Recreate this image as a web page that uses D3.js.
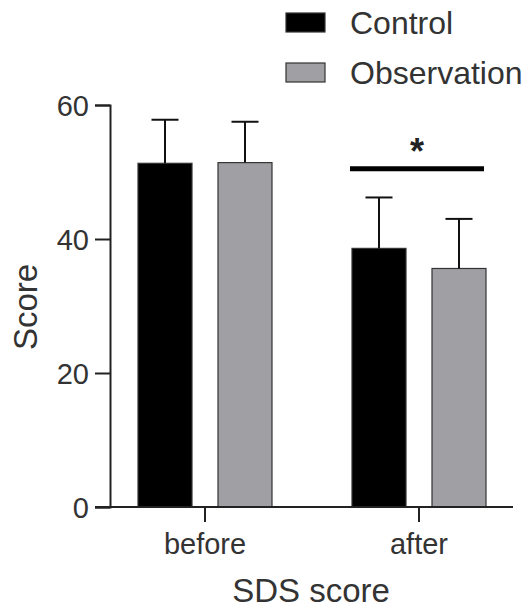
<!DOCTYPE html>
<html lang="en">
<head>
<meta charset="UTF-8">
<title>SDS score</title>
<script src="https://cdn.jsdelivr.net/npm/d3@7"></script>
<style>
  body { margin: 0; background: #fff; }
  text { font-family: "Liberation Sans", Arial, sans-serif; fill: #333; }
</style>
</head>
<body>
<script>
var categories = ["before", "after"];
var series = ["Control", "Observation"];
var means = { Control: [51.3, 38.6], Observation: [51.4, 35.6] };
var sds = { Control: [6.5, 7.6], Observation: [6.1, 7.4] };
var yTicks = [0, 20, 40, 60];
var colors = { Control: "#000000", Observation: "#a0a0a4" };
var sigLevel = 50.5;

var svg = d3.select("body").append("svg")
  .attr("width", 526)
  .attr("height", 609);

var y = d3.scaleLinear().domain([0, 60]).range([507, 105]);
var x = d3.scaleBand().domain(categories).range([98, 526]).padding(0);
var xSub = d3.scaleBand().domain(series).range([40, 174]).paddingInner(0.325).paddingOuter(0);

// bars
var rows = [];
categories.forEach(function(c, i) {
  series.forEach(function(s) {
    rows.push({ cat: c, s: s, v: means[s][i], sd: sds[s][i] });
  });
});

var g = svg.append("g");
g.selectAll("rect.bar").data(rows).enter().append("rect")
  .attr("class", "bar")
  .attr("x", function(d) { return x(d.cat) + xSub(d.s); })
  .attr("y", function(d) { return y(d.v); })
  .attr("width", xSub.bandwidth())
  .attr("height", function(d) { return y(0) - y(d.v); })
  .attr("fill", function(d) { return colors[d.s]; })
  .attr("stroke", "#333")
  .attr("stroke-width", 1.2);

// error bars (upper only)
var capW = 27;
g.selectAll("line.err").data(rows).enter().append("line")
  .attr("x1", function(d) { return x(d.cat) + xSub(d.s) + xSub.bandwidth() / 2; })
  .attr("x2", function(d) { return x(d.cat) + xSub(d.s) + xSub.bandwidth() / 2; })
  .attr("y1", function(d) { return y(d.v); })
  .attr("y2", function(d) { return y(d.v + d.sd); })
  .attr("stroke", "#111").attr("stroke-width", 2);
g.selectAll("line.cap").data(rows).enter().append("line")
  .attr("x1", function(d) { return x(d.cat) + xSub(d.s) + xSub.bandwidth() / 2 - capW / 2; })
  .attr("x2", function(d) { return x(d.cat) + xSub(d.s) + xSub.bandwidth() / 2 + capW / 2; })
  .attr("y1", function(d) { return y(d.v + d.sd); })
  .attr("y2", function(d) { return y(d.v + d.sd); })
  .attr("stroke", "#111").attr("stroke-width", 2);

// significance bar
var sx1 = x("after") + xSub("Control") - 2;
var sx2 = x("after") + xSub("Observation") + xSub.bandwidth() - 2;
svg.append("line")
  .attr("x1", sx1).attr("x2", sx2)
  .attr("y1", y(sigLevel)).attr("y2", y(sigLevel))
  .attr("stroke", "#000").attr("stroke-width", 5);
svg.append("text")
  .attr("x", (sx1 + sx2) / 2).attr("y", y(sigLevel) - 5)
  .attr("text-anchor", "middle")
  .style("font-size", "36px").style("font-weight", "bold")
  .style("fill", "#222")
  .text("*");

// y axis
var yAxis = svg.append("g")
  .attr("transform", "translate(110,0)")
  .call(d3.axisLeft(y).tickValues(yTicks).tickSize(15).tickPadding(6));
yAxis.select(".domain").attr("stroke", "#222").attr("stroke-width", 2);
yAxis.selectAll(".tick line").attr("stroke", "#222").attr("stroke-width", 2);
yAxis.selectAll(".tick text").style("font-size", "29px").style("fill", "#333")
  .attr("dy", "0.35em");

// x axis
var xAxis = svg.append("g")
  .attr("transform", "translate(0,507)")
  .call(d3.axisBottom(x).tickSize(15).tickPadding(11));
xAxis.select(".domain").remove();
xAxis.append("line")
  .attr("x1", 95).attr("x2", 513)
  .attr("stroke", "#222").attr("stroke-width", 2);
xAxis.selectAll(".tick line").attr("stroke", "#222").attr("stroke-width", 2);
xAxis.selectAll(".tick text").style("font-size", "29px").style("fill", "#333");

// axis titles
svg.append("text")
  .attr("x", 311).attr("y", 602)
  .attr("text-anchor", "middle")
  .style("font-size", "33px")
  .text("SDS score");
svg.append("text")
  .attr("transform", "translate(37,307) rotate(-90)")
  .attr("text-anchor", "middle")
  .style("font-size", "33px")
  .text("Score");

// legend
var legend = svg.append("g");
series.forEach(function(s, i) {
  var ly = 13 + i * 50;
  legend.append("rect")
    .attr("x", 286).attr("y", ly)
    .attr("width", 39).attr("height", 19)
    .attr("fill", colors[s]).attr("stroke", "#333").attr("stroke-width", 1.2);
  legend.append("text")
    .attr("x", 350).attr("y", ly + 21)
    .style("font-size", "32px")
    .text(s);
});
</script>
</body>
</html>
